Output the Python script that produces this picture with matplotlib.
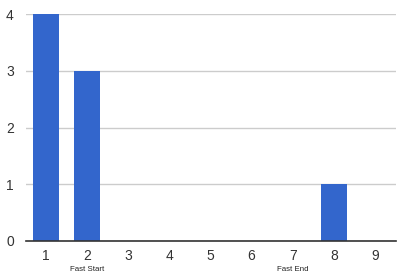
import matplotlib
matplotlib.use("Agg")
import matplotlib.pyplot as plt

plt.rcParams["font.family"] = ["Liberation Sans", "DejaVu Sans"]

categories = [1, 2, 3, 4, 5, 6, 7, 8, 9]
values = [4, 3, 0, 0, 0, 0, 0, 1, 0]
yticks = [0, 1, 2, 3, 4]
annotations = {2: "Fast Start", 7: "Fast End"}

W, H = 404, 278
fig = plt.figure(figsize=(W / 100, H / 100), dpi=100)
ax = fig.add_axes([25.5 / W, (H - 241) / H, 370 / W, 227 / H])

ax.bar(categories, values, width=0.63, color="#3366CC", zorder=3)
ax.set_xlim(0.5, 9.5)
ax.set_ylim(0, 4)
ax.set_yticks(yticks)
ax.set_xticks(categories)
ax.grid(axis="y", color="#CCCCCC", linewidth=1, zorder=0)
for s in ["top", "right", "left"]:
    ax.spines[s].set_visible(False)
ax.spines["bottom"].set_color("#333333")
ax.spines["bottom"].set_linewidth(1.2)
ax.spines["bottom"].set_zorder(4)
ax.tick_params(length=0, labelsize=10, colors="#333333")
ax.tick_params(axis="x", pad=6)
ax.tick_params(axis="y", pad=14)
for lab in ax.get_yticklabels():
    lab.set_horizontalalignment("left")
for x, t in annotations.items():
    ax.annotate(t, xy=(x, 0), xycoords="data", xytext=(0, -20.5), textcoords="offset points",
                ha="center", va="center", fontsize=5.7, color="#222222")
fig.savefig("out.png", dpi=100)
